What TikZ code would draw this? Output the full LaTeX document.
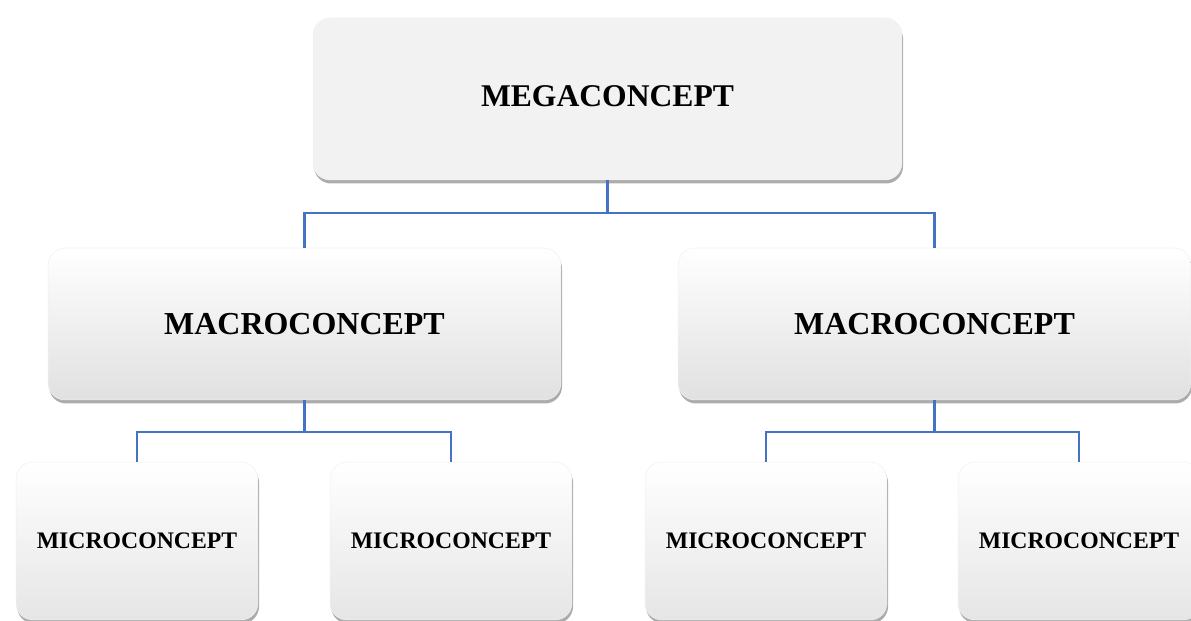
\documentclass[tikz,border=0pt]{standalone}
\usepackage{fontspec}
\setmainfont{Liberation Serif}
\usetikzlibrary{shadows,calc}
\definecolor{linkblue}{RGB}{68,114,196}
\definecolor{boxgray}{RGB}{242,242,242}

\begin{document}
\begin{tikzpicture}[
        x=0.02cm, y=-0.02cm,
        box/.style={rounded corners=0.34cm, draw=black!6, line width=0.3pt, align=center,
            drop shadow={shadow xshift=0.6pt, shadow yshift=-2pt, opacity=0.5, fill=black!65}},
        mega/.style={box, fill=boxgray, minimum width=11.78cm, minimum height=3.24cm, text depth=0.12cm,
            font=\fontsize{18}{21}\selectfont\bfseries},
        macro/.style={box, top color=white, middle color=white, bottom color=black!12,
            minimum width=10.26cm, minimum height=3.04cm, font=\fontsize{18.2}{21}\selectfont\bfseries},
        micro/.style={box, top color=white, middle color=white, bottom color=black!10,
            minimum width=4.84cm, minimum height=3.16cm, font=\fontsize{13.5}{16}\selectfont\bfseries},
        link/.style={draw=linkblue, line width=1.5pt}
    ]
        \useasboundingbox (0,0) rectangle (1191,621);
        % top level
        \node[mega] (mega) at (607.5,99) {MEGACONCEPT};
        % second level
        \node[macro] (macroL) at (304.5,324) {MACROCONCEPT};
        \node[macro] (macroR) at (934.5,324) {MACROCONCEPT};
        % third level
        \node[micro] (microA) at (137,541) {MICROCONCEPT};
        \node[micro] (microB) at (451,541) {MICROCONCEPT};
        \node[micro] (microC) at (766,541) {MICROCONCEPT};
        \node[micro] (microD) at (1079,541) {MICROCONCEPT};
        % junctions
        \coordinate (j0) at (607.5,213);
        \coordinate (jL) at (304.5,432);
        \coordinate (jR) at (934.5,432);
        \draw[link] (mega.south) -- (j0) -| (macroL.north);
        \draw[link] (j0) -| (macroR.north);
        \draw[link] (macroL.south) -- (jL) -| (microA.north);
        \draw[link] (jL) -| (microB.north);
        \draw[link] (macroR.south) -- (jR) -| (microC.north);
        \draw[link] (jR) -| (microD.north);
    \end{tikzpicture}
\end{document}
